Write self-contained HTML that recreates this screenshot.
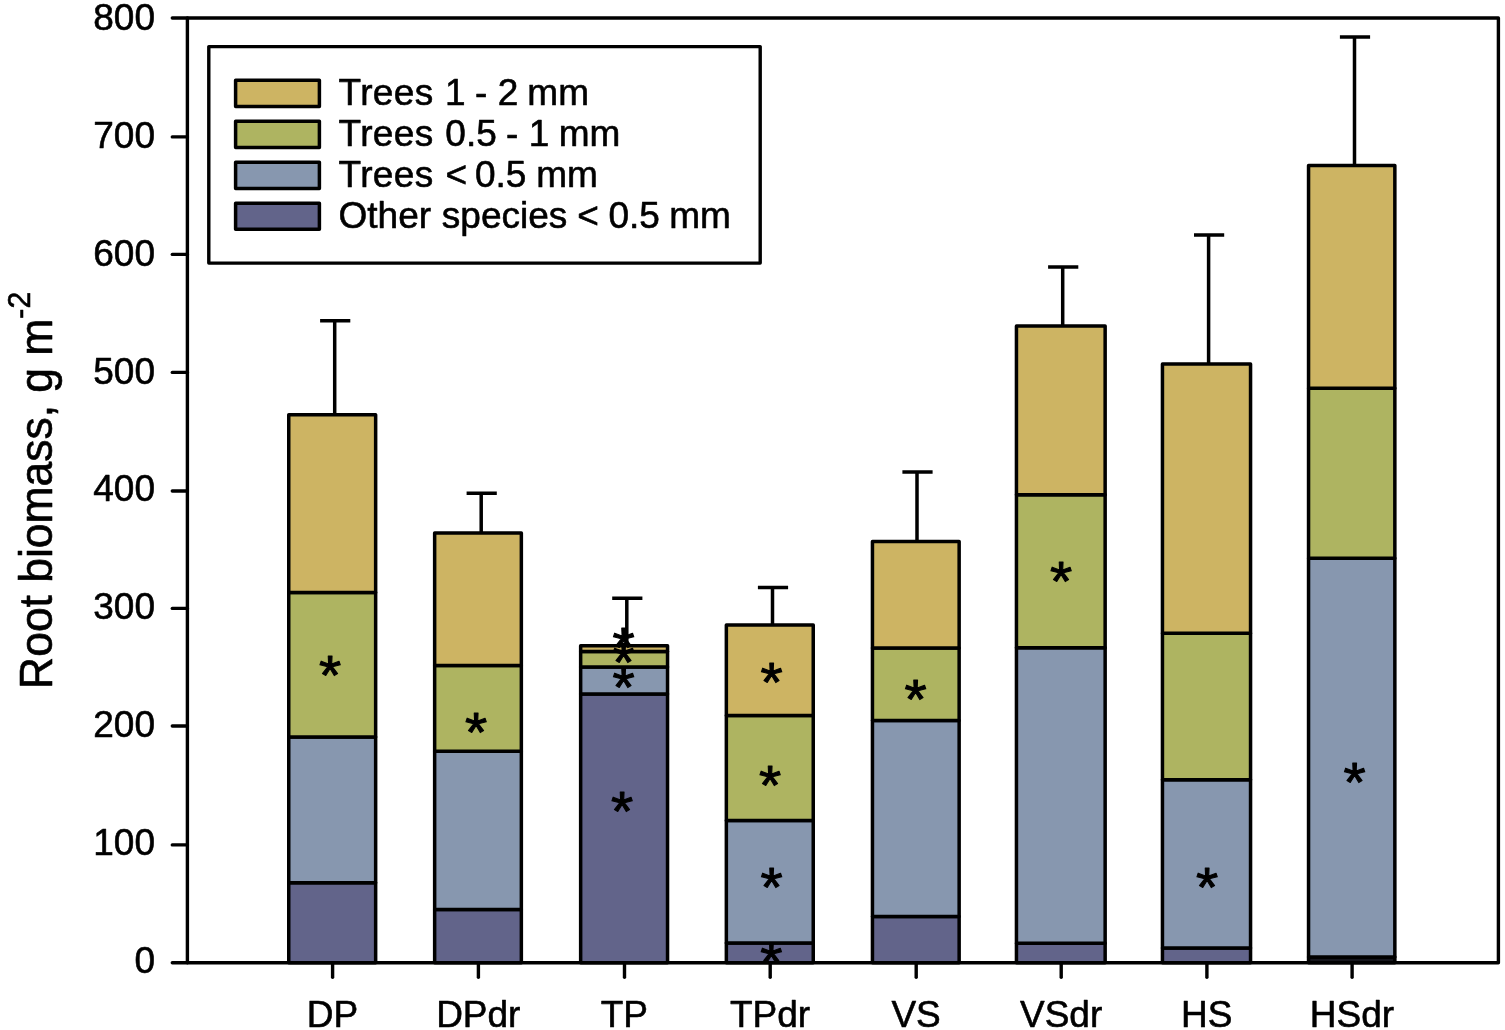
<!DOCTYPE html>
<html lang="en"><head><meta charset="utf-8"><title>Root biomass</title>
<style>html,body{margin:0;padding:0;background:#fff;}body{width:1505px;height:1030px;overflow:hidden;}svg{display:block;filter:blur(0.55px);}</style>
</head><body>
<svg width="1505" height="1030" viewBox="0 0 1505 1030">
<rect x="0" y="0" width="1505" height="1030" fill="#ffffff"/>
<g stroke="#000" stroke-width="3.5" fill="none">
<path d="M334.7 414.8V320.7M320.1 320.7H350.3"/>
<path d="M481.2 533.0V493.2M466.6 493.2H496.8"/>
<path d="M626.8 645.8V598.2M612.2 598.2H642.4"/>
<path d="M772.5 625.0V587.5M757.9 587.5H788.1"/>
<path d="M917.0 541.5V472.0M902.4 472.0H932.6"/>
<path d="M1062.7 326.0V267.1M1048.1 267.1H1078.3"/>
<path d="M1208.6 364.0V234.9M1194.0 234.9H1224.2"/>
<path d="M1354.5 165.4V37.1M1339.9 37.1H1370.1"/>
</g>
<g stroke="#000" stroke-width="3.5" stroke-linejoin="round">
<rect x="288.75" y="882.70" width="86.90" height="80.10" fill="#62648a"/>
<rect x="288.75" y="737.00" width="86.90" height="145.70" fill="#8797af"/>
<rect x="288.75" y="592.50" width="86.90" height="144.50" fill="#aeb461"/>
<rect x="288.75" y="414.80" width="86.90" height="177.70" fill="#cdb463"/>
<rect x="434.65" y="909.50" width="86.70" height="53.30" fill="#62648a"/>
<rect x="434.65" y="751.20" width="86.70" height="158.30" fill="#8797af"/>
<rect x="434.65" y="665.60" width="86.70" height="85.60" fill="#aeb461"/>
<rect x="434.65" y="533.00" width="86.70" height="132.60" fill="#cdb463"/>
<rect x="580.65" y="694.00" width="86.90" height="268.80" fill="#62648a"/>
<rect x="580.65" y="667.00" width="86.90" height="27.00" fill="#8797af"/>
<rect x="580.65" y="651.60" width="86.90" height="15.40" fill="#aeb461"/>
<rect x="580.65" y="645.80" width="86.90" height="5.80" fill="#cdb463"/>
<rect x="726.35" y="943.00" width="86.90" height="19.80" fill="#62648a"/>
<rect x="726.35" y="820.60" width="86.90" height="122.40" fill="#8797af"/>
<rect x="726.35" y="715.60" width="86.90" height="105.00" fill="#aeb461"/>
<rect x="726.35" y="625.00" width="86.90" height="90.60" fill="#cdb463"/>
<rect x="872.45" y="916.40" width="86.70" height="46.40" fill="#62648a"/>
<rect x="872.45" y="720.60" width="86.70" height="195.80" fill="#8797af"/>
<rect x="872.45" y="648.00" width="86.70" height="72.60" fill="#aeb461"/>
<rect x="872.45" y="541.50" width="86.70" height="106.50" fill="#cdb463"/>
<rect x="1016.45" y="943.20" width="88.70" height="19.60" fill="#62648a"/>
<rect x="1016.45" y="647.80" width="88.70" height="295.40" fill="#8797af"/>
<rect x="1016.45" y="494.70" width="88.70" height="153.10" fill="#aeb461"/>
<rect x="1016.45" y="326.00" width="88.70" height="168.70" fill="#cdb463"/>
<rect x="1162.45" y="948.10" width="88.10" height="14.70" fill="#62648a"/>
<rect x="1162.45" y="779.70" width="88.10" height="168.40" fill="#8797af"/>
<rect x="1162.45" y="633.30" width="88.10" height="146.40" fill="#aeb461"/>
<rect x="1162.45" y="364.00" width="88.10" height="269.30" fill="#cdb463"/>
<rect x="1308.55" y="957.00" width="86.30" height="5.80" fill="#15151c"/>
<rect x="1308.55" y="558.30" width="86.30" height="398.70" fill="#8797af"/>
<rect x="1308.55" y="388.30" width="86.30" height="170.00" fill="#aeb461"/>
<rect x="1308.55" y="165.40" width="86.30" height="222.90" fill="#cdb463"/>
</g>
<g stroke="#000" stroke-width="3.4" fill="none" stroke-linecap="round" stroke-linejoin="round">
<rect x="187.4" y="18.0" width="1311.0" height="944.8"/>
<path d="M172.3 962.8H187.4"/>
<path d="M172.3 844.9H187.4"/>
<path d="M172.3 726.0H187.4"/>
<path d="M172.3 608.4H187.4"/>
<path d="M172.3 491.0H187.4"/>
<path d="M172.3 372.4H187.4"/>
<path d="M172.3 254.4H187.4"/>
<path d="M172.3 136.9H187.4"/>
<path d="M172.3 18.0H187.4"/>
<path d="M332.6 962.8V977.3"/>
<path d="M478.4 962.8V977.3"/>
<path d="M624.5 962.8V977.3"/>
<path d="M770.2 962.8V977.3"/>
<path d="M916.2 962.8V977.3"/>
<path d="M1061.2 962.8V977.3"/>
<path d="M1206.9 962.8V977.3"/>
<path d="M1352.1 962.8V977.3"/>
</g>
<rect x="208.8" y="46.6" width="551.4" height="216.5" fill="#fff" stroke="#000" stroke-width="3.4" stroke-linejoin="round"/>
<g font-family="'Liberation Sans', Arial, sans-serif" font-size="37" fill="#000" stroke="#000" stroke-width="0.6" stroke-linejoin="round">
<rect x="235.6" y="80.30" width="83.8" height="26.2" fill="#cdb463" stroke="#000" stroke-width="3.5"/>
<text x="338.5" y="105.2" dx="0 .4 .4 .4 .4 1.4 0 -.8 0 .2 0 -1.4 0 0">Trees 1 - 2 mm</text>
<rect x="235.6" y="121.25" width="83.8" height="26.2" fill="#aeb461" stroke="#000" stroke-width="3.5"/>
<text x="338.5" y="146.0" dx="0 .4 .4 .4 .4 1.7 0 0 0 -1.1 0 .3 0 -1 0 0">Trees 0.5 - 1 mm</text>
<rect x="235.6" y="162.20" width="83.8" height="26.2" fill="#8797af" stroke="#000" stroke-width="3.5"/>
<text x="338.5" y="186.8" dx="0 .4 .4 .4 .4 1.9 0 -2.5 0 0 0 -.4 0 0">Trees &lt; 0.5 mm</text>
<rect x="235.6" y="203.15" width="83.8" height="26.2" fill="#62648a" stroke="#000" stroke-width="3.5"/>
<text x="338.5" y="227.6" dx="0 0 0 0 0 .5 0 0 0 0 0 0 0 -.3 0 -.7 0 0 0 -1 0 0">Other species &lt; 0.5 mm</text>
<text x="155.0" y="972.9" text-anchor="end">0</text>
<text x="155.0" y="855.0" text-anchor="end">100</text>
<text x="155.0" y="737.1" text-anchor="end">200</text>
<text x="155.0" y="619.3" text-anchor="end">300</text>
<text x="155.0" y="501.4" text-anchor="end">400</text>
<text x="155.0" y="383.5" text-anchor="end">500</text>
<text x="155.0" y="265.6" text-anchor="end">600</text>
<text x="155.0" y="147.8" text-anchor="end">700</text>
<text x="155.0" y="29.9" text-anchor="end">800</text>
<text x="332.5" y="1026.6" text-anchor="middle">DP</text>
<text x="478.3" y="1026.6" text-anchor="middle">DPdr</text>
<text x="624.4" y="1026.6" text-anchor="middle">TP</text>
<text x="770.1" y="1026.6" text-anchor="middle">TPdr</text>
<text x="916.1" y="1026.6" text-anchor="middle">VS</text>
<text x="1061.1" y="1026.6" text-anchor="middle">VSdr</text>
<text x="1206.8" y="1026.6" text-anchor="middle">HS</text>
<text x="1352.0" y="1026.6" text-anchor="middle">HSdr</text>
</g>
<g font-family="'Liberation Sans', Arial, sans-serif" font-size="57" fill="#000" stroke="#000" stroke-width="1.1" stroke-linejoin="round" text-anchor="middle">
<text transform="translate(330.0 667.0) scale(1 0.98)" x="0" y="28.0">*</text>
<text transform="translate(476.0 723.2) scale(1 0.98)" x="0" y="28.0">*</text>
<text transform="translate(623.5 638.3) scale(1 0.98)" x="0" y="28.0">*</text>
<text transform="translate(623.5 653.5) scale(1 0.98)" x="0" y="28.0">*</text>
<text transform="translate(623.5 679.0) scale(1 0.98)" x="0" y="28.0">*</text>
<text transform="translate(622.0 803.0) scale(1 0.98)" x="0" y="28.0">*</text>
<text transform="translate(771.5 674.0) scale(1 0.98)" x="0" y="28.0">*</text>
<text transform="translate(770.0 777.0) scale(1 0.98)" x="0" y="28.0">*</text>
<text transform="translate(771.5 879.0) scale(1 0.98)" x="0" y="28.0">*</text>
<text transform="translate(771.4 954.0) scale(1 0.98)" x="0" y="28.0">*</text>
<text transform="translate(915.6 690.6) scale(1 0.98)" x="0" y="28.0">*</text>
<text transform="translate(1061.0 573.0) scale(1 0.98)" x="0" y="28.0">*</text>
<text transform="translate(1207.0 879.0) scale(1 0.98)" x="0" y="28.0">*</text>
<text transform="translate(1354.6 773.7) scale(1 0.98)" x="0" y="28.0">*</text>
</g>
<text transform="translate(52.3 688.9) rotate(-90) scale(0.9765 1)" font-family="'Liberation Sans', Arial, sans-serif" font-size="45.5" fill="#000" stroke="#000" stroke-width="0.6" stroke-linejoin="round">Root biomass, g m<tspan font-size="31" dy="-22.6">-2</tspan></text>
</svg>
</body></html>
